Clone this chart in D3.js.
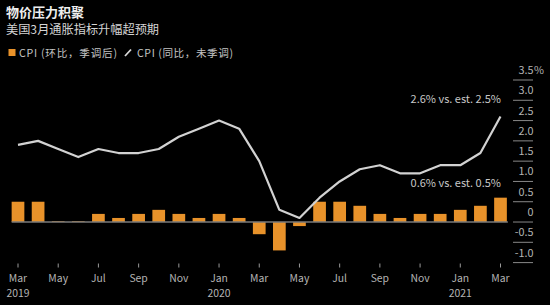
<!DOCTYPE html>
<html><head><meta charset="utf-8">
<script src="https://cdn.jsdelivr.net/npm/d3@7"></script>
<style>
html,body{margin:0;padding:0;background:#000;}
svg{display:block;}
text{font-family:"Noto Sans CJK SC","Noto Sans",sans-serif;}
</style></head>
<body>
<svg id="chart" width="550" height="305"></svg>
<script>
const months = ["Mar","Apr","May","Jun","Jul","Aug","Sep","Oct","Nov","Dec","Jan","Feb",
                "Mar","Apr","May","Jun","Jul","Aug","Sep","Oct","Nov","Dec","Jan","Feb","Mar"];
const years = [2019,2019,2019,2019,2019,2019,2019,2019,2019,2019,2020,2020,
               2020,2020,2020,2020,2020,2020,2020,2020,2020,2020,2021,2021,2021];
const cpiMoM = [0.5,0.5,0.02,0.02,0.2,0.1,0.2,0.3,0.2,0.1,0.2,0.1,
                -0.3,-0.7,-0.1,0.5,0.5,0.4,0.2,0.1,0.2,0.2,0.3,0.4,0.6];
const cpiYoY = [1.9,2.0,1.8,1.6,1.8,1.7,1.7,1.8,2.1,2.3,2.5,2.3,
                1.5,0.3,0.1,0.6,1.0,1.3,1.4,1.2,1.2,1.4,1.4,1.7,2.6];
const yTicks = [3.5,3.0,2.5,2.0,1.5,1.0,0.5,0,-0.5,-1.0];
const yTickLabels = ["3.5","3.0","2.5","2.0","1.5","1.0","0.5","0","-0.5","-1.0"];
const tickIdx = [0,2,4,6,8,10,12,14,16,18,20,22,24];
const title = "物价压力积聚";
const subtitle = "美国3月通胀指标升幅超预期";
const legend1 = "CPI (环比，季调后)";
const legend2 = "CPI (同比，未季调)";
const note1 = "2.6% vs. est. 2.5%";
const note2 = "0.6% vs. est. 0.5%";

const svg = d3.select("#chart");
const idx = d3.range(months.length);
const x = d3.scaleLinear().domain([0, months.length-1]).range([18, 500.5]);
const y = d3.scaleLinear().domain([-1, 3.5]).range([262.6, 80]);
const barW = 12.7;

svg.append("rect").attr("width",550).attr("height",305).attr("fill","#000");

// titles
svg.append("text").attr("x",6).attr("y",16.5).attr("fill","#eeeeee")
  .attr("font-size",13).attr("font-weight","bold").text(title);
svg.append("text").attr("x",6).attr("y",33.5).attr("fill","#d4d4d4")
  .attr("font-size",12.2).text(subtitle);

// legend
svg.append("rect").attr("x",8.5).attr("y",49).attr("width",7).attr("height",7).attr("fill","#E8922A");
svg.append("text").attr("x",19).attr("y",56.5).attr("fill","#c4c4c4").attr("font-size",10.6)
  .attr("textLength",98).attr("lengthAdjust","spacing").text(legend1);
svg.append("line").attr("x1",125).attr("y1",56).attr("x2",131).attr("y2",49.5)
  .attr("stroke","#d8d8d8").attr("stroke-width",1.8);
svg.append("text").attr("x",137).attr("y",56.5).attr("fill","#c4c4c4").attr("font-size",10.6)
  .attr("textLength",96).attr("lengthAdjust","spacing").text(legend2);

// y axis ticks
const yg = svg.append("g");
yTicks.forEach((t,i)=>{
  yg.append("line").attr("x1",513).attr("x2",533).attr("y1",y(t)).attr("y2",y(t))
    .attr("stroke","#888").attr("stroke-width",1);
  yg.append("text").attr("x",533.5).attr("y",y(t)-6).attr("text-anchor","end")
    .attr("fill","#b4b4b4").attr("font-size",10.8).text(yTickLabels[i]);
  if(i===0){
    yg.append("text").attr("x",534).attr("y",y(t)-6).attr("text-anchor","start")
      .attr("fill","#b4b4b4").attr("font-size",10.8).text("%");
  }
});

// bars
svg.append("g").selectAll("rect").data(idx).join("rect")
  .attr("x", i=>x(i)-barW/2)
  .attr("width", barW)
  .attr("y", i=>y(Math.max(0,cpiMoM[i])))
  .attr("height", i=>Math.abs(y(cpiMoM[i])-y(0)))
  .attr("fill","#E8922A");

// zero line
svg.append("line").attr("x1",x(0)-barW/2).attr("x2",x(months.length-1)+barW/2+1)
  .attr("y1",y(0)).attr("y2",y(0)).attr("stroke","#7a7a7a").attr("stroke-width",1.3);

// line
const line = d3.line().x(i=>x(i)).y(i=>y(cpiYoY[i]));
svg.append("path").datum(idx).attr("d",line).attr("fill","none")
  .attr("stroke","#d2d2d2").attr("stroke-width",2.2).attr("stroke-linejoin","round");

// annotations
svg.append("text").attr("x",501).attr("y",103).attr("text-anchor","end")
  .attr("fill","#c8c8c8").attr("font-size",11).text(note1);
svg.append("text").attr("x",501).attr("y",186.5).attr("text-anchor","end")
  .attr("fill","#c8c8c8").attr("font-size",11).text(note2);

// x axis
const xg = svg.append("g");
tickIdx.forEach(i=>{
  xg.append("line").attr("x1",x(i)).attr("x2",x(i)).attr("y1",263.5).attr("y2",267.5)
    .attr("stroke","#999").attr("stroke-width",1);
  xg.append("text").attr("x",x(i)).attr("y",281.5).attr("text-anchor","middle")
    .attr("fill","#b4b4b4").attr("font-size",10.4).text(months[i]);
  if(i===0 || months[i]==="Jan"){
    xg.append("text").attr("x",x(i)).attr("y",297).attr("text-anchor","middle")
      .attr("fill","#b4b4b4").attr("font-size",10.4).text(years[i]);
  }
});
</script>
</body></html>
